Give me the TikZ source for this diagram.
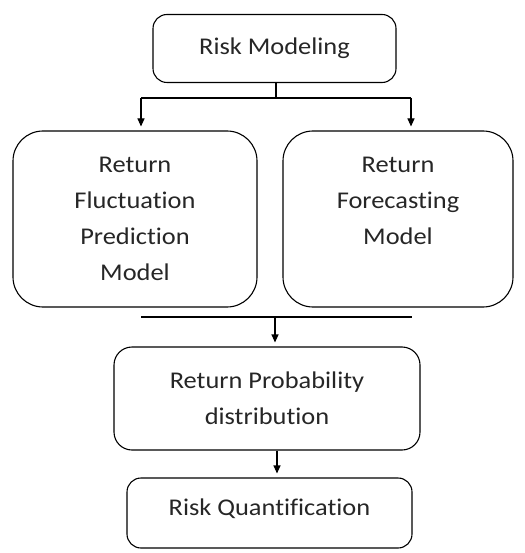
\documentclass[tikz,border=0pt]{standalone}
\usepackage{fontspec}
\setmainfont{Carlito}[FakeStretch=1.1, Ligatures=NoCommon]
\usetikzlibrary{arrows.meta}
\begin{document}
\begin{tikzpicture}[x=1pt,y=-1pt,
  box/.style={draw, line width=1.1pt, rounded corners=#1, align=center, inner sep=0pt,
    font=\fontsize{24}{36}\selectfont, text=black!85},
  box/.default=14pt,
  conn/.style={line width=1.1pt},
  arr/.style={conn, -{Triangle[length=8pt,width=7pt]}, shorten >=4pt}]
\useasboundingbox (0,0) rectangle (524,553);
\node[box=14pt, minimum width=243pt, minimum height=68pt] (rm) at (274.5,48.5) {Risk Modeling};
\node[box=30pt, minimum width=244pt, minimum height=176pt] (fl) at (135,219) {\raisebox{0pt}{}Return\\Fluctuation\\Prediction\\Model};
\node[box=30pt, minimum width=230pt, minimum height=176pt] (fc) at (398,219) {Return\\Forecasting\\Model\\\mbox{}};
\node[box=18pt, minimum width=306pt, minimum height=103pt] (rp) at (267,398.5) {Return Probability\\distribution};
\node[box=14pt, minimum width=285pt, minimum height=70pt, text depth=12pt] (rq) at (269.5,513) {Risk Quantification};
\coordinate (j1) at (276,98);
\coordinate (j1l) at (141,98);
\coordinate (j1r) at (411,98);
\coordinate (j2l) at (141,317);
\coordinate (j2r) at (412,317);
\coordinate (j2) at (275,317);
\draw[conn] (rm.south -| j1) -- (j1);
\draw[conn] (j1l) -- (j1r);
\draw[arr] (j1l) -- (j1l |- fl.north);
\draw[arr] (j1r) -- (j1r |- fc.north);
\draw[conn] (j2l) -- (j2r);
\draw[arr] (j2) -- (j2 |- rp.north);
\draw[arr] (rp.south -| 277,0) -- (rq.north -| 277,0);
\end{tikzpicture}
\end{document}
